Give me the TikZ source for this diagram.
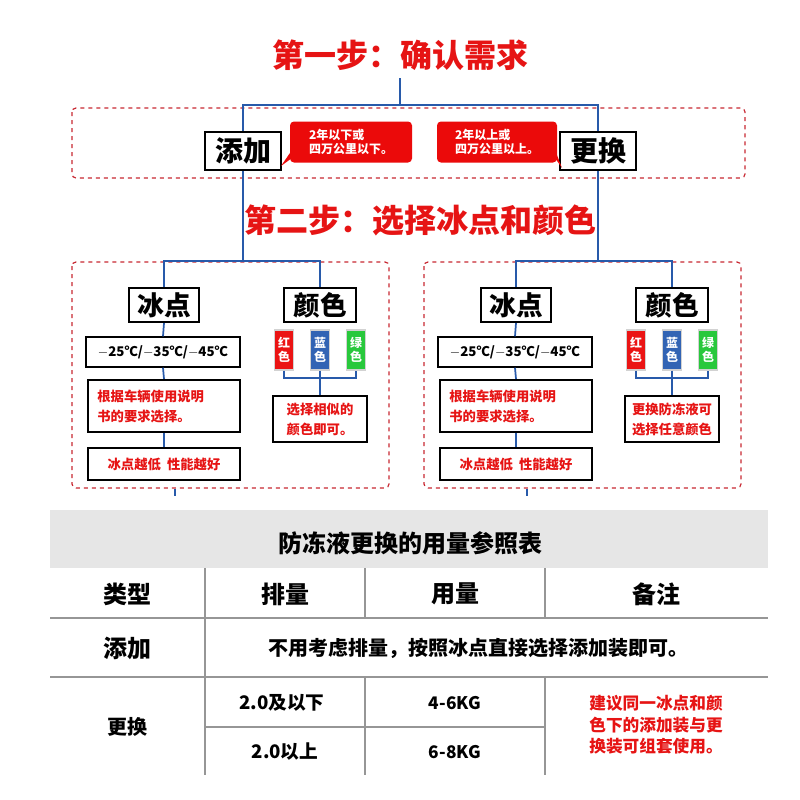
\documentclass[tikz,border=0pt]{standalone}
\usepackage{fontspec}
\setmainfont{Noto Sans CJK SC}
\definecolor{cblue}{RGB}{40,90,170}
\definecolor{dred}{RGB}{200,40,50}
\definecolor{tred}{RGB}{230,20,20}
\definecolor{cred}{RGB}{235,10,10}
\definecolor{chipbd}{RGB}{210,210,210}
\definecolor{chr}{RGB}{235,20,20}
\definecolor{chb}{RGB}{50,100,180}
\definecolor{chg}{RGB}{40,200,60}
\definecolor{gline}{RGB}{150,150,150}
\definecolor{gfill}{RGB}{230,230,230}
\begin{document}
\begin{tikzpicture}[x=0.75pt,y=-0.75pt,
  conn/.style={draw=cblue,line width=1.3pt},
  dbox/.style={draw=dred,dashed,line width=0.9pt,rounded corners=3pt},
  bbox/.style={draw=black,line width=1.6pt,fill=white,inner sep=0pt,font=\bfseries},
  rtxt/.style={text=tred,font=\bfseries},
  call/.style={fill=cred,rounded corners=3pt,text=white,font=\bfseries\fontsize{9}{11}\selectfont,align=left,inner sep=0pt},
  chip/.style={draw=chipbd,line width=0.8pt,text=white,font=\bfseries\fontsize{9}{10.5}\selectfont,align=center,inner sep=0pt,minimum width=14.25pt,minimum height=30pt},
  grid/.style={draw=gline,line width=1.5pt},
  ttxt/.style={font=\bfseries}]
\useasboundingbox (0,0) rectangle (800,800);
\fill[white] (0,0) rectangle (800,800);
% step 1
\node[rtxt,font=\bfseries\fontsize{24}{26}\selectfont] (s1) at (400,55) {第一步：确认需求};
\draw[dbox] (72,108) rectangle (745,178);
\node[bbox,minimum width=57pt,minimum height=28.5pt,font=\bfseries\fontsize{21}{22}\selectfont] (add) at (243,151) {添加};
\node[bbox,minimum width=57pt,minimum height=28.5pt,font=\bfseries\fontsize{21}{22}\selectfont] (rep) at (598,151) {更换};
\coordinate (j1) at (400,105);
\coordinate (j0) at (400,78);
\draw[conn] (j0) -- (j1);
\draw[conn] (add.north) |- (j1) -| (rep.north);
\node[call,minimum width=91.5pt,minimum height=30.75pt] (c1) at (351,142) {2年以下或\\四万公里以下。};
\node[call,minimum width=90pt,minimum height=30.75pt] (c2) at (497,142) {2年以上或\\四万公里以上。};
\fill[cred] (292,150) -- (281,166) -- (292,158) -- cycle;
\fill[cred] (555,150) -- (562,168) -- (555,158) -- cycle;
% step 2
\node[rtxt,font=\bfseries\fontsize{24}{26}\selectfont] (s2) at (420,220) {第二步：选择冰点和颜色};
\coordinate (jl) at (243,261);
\coordinate (jr) at (598,261);
\draw[conn] (add.south) -- (jl);
\draw[conn] (rep.south) -- (jr);
\foreach \o/\j/\desc/\nm in {0/jl/{选择相似的\\颜色即可。}/L, 352/jr/{更换防冻液可\\选择任意颜色}/R}{
  \begin{scope}[xshift=\o*0.75pt]
  \draw[dbox] (72,262) rectangle (389,488);
  \node[bbox,minimum width=52.5pt,minimum height=25.5pt,font=\bfseries\fontsize{20}{22}\selectfont] (ice\nm) at (164,305) {冰点};
  \node[bbox,minimum width=54pt,minimum height=25.5pt,font=\bfseries\fontsize{20}{22}\selectfont] (col\nm) at (320,305) {颜色};
  \node[bbox,minimum width=115pt,minimum height=22pt,font=\bfseries\fontsize{10}{12}\selectfont] (tmp\nm) at (163,352) {$-$25℃/$-$35℃/$-$45℃};
  \node[bbox,minimum width=114pt,minimum height=39pt,align=left,text width=100pt,rtxt,font=\bfseries\fontsize{10}{15}\selectfont] (ins\nm) at (164,406) {根据车辆使用说明\\书的要求选择。};
  \node[bbox,minimum width=114pt,minimum height=24pt,rtxt,font=\bfseries\fontsize{10}{12}\selectfont] (low\nm) at (164,464) {冰点越低\ \ 性能越好};
  \node[chip,fill=chr] (r\nm) at (284,350) {红\\色};
  \node[chip,fill=chb] (b\nm) at (320,350) {蓝\\色};
  \node[chip,fill=chg] (g\nm) at (356,350) {绿\\色};
  \node[bbox,minimum width=70pt,minimum height=34pt,align=left,rtxt,font=\bfseries\fontsize{10}{15}\selectfont] (d\nm) at (320,419) {\desc};
  \coordinate (cb\nm) at (320,378);
  \draw[conn] (ice\nm.south) -- (tmp\nm.north);
  \draw[conn] (tmp\nm.south) -- (ins\nm.north);
  \draw[conn] (ins\nm.south) -- (low\nm.north);
  \draw[conn] (r\nm.south) |- (cb\nm) -| (g\nm.south);
  \draw[conn] (b\nm.south) -- (d\nm.north);
  \draw[conn] (ice\nm.north) |- (\j) -| (col\nm.north);
  \coordinate (st\nm) at (175,489);
  \coordinate (sb\nm) at (175,496);
  \draw[conn,line width=0.8pt] (st\nm) -- (sb\nm);
  \end{scope}
}
% table
\fill[gfill] (50,510) rectangle (768,568);
\node[ttxt,font=\bfseries\fontsize{18}{20}\selectfont] (tt) at (410,543) {防冻液更换的用量参照表};
\draw[grid] (50,618) -- (768,618);
\draw[grid] (50,677) -- (768,677);
\draw[grid] (205,727) -- (545,727);
\draw[grid] (205,568) -- (205,775);
\draw[grid] (365,568) -- (365,618);
\draw[grid] (365,677) -- (365,775);
\draw[grid] (545,568) -- (545,618);
\draw[grid] (545,677) -- (545,775);
\node[ttxt,font=\bfseries\fontsize{18}{20}\selectfont] (h1) at (127,594) {类型};
\node[ttxt,font=\bfseries\fontsize{18}{20}\selectfont] (h2) at (285,594) {排量};
\node[ttxt,font=\bfseries\fontsize{18}{20}\selectfont] (h3) at (455,594) {用量};
\node[ttxt,font=\bfseries\fontsize{18}{20}\selectfont] (h4) at (656,594) {备注};
\node[ttxt,font=\bfseries\fontsize{18}{20}\selectfont] (a1) at (127,648) {添加};
\node[ttxt,font=\bfseries\fontsize{15}{17}\selectfont] (a2) at (478,648) {不用考虑排量，按照冰点直接选择添加装即可。};
\node[ttxt,font=\bfseries\fontsize{15}{17}\selectfont] (r1) at (127,727) {更换};
\node[ttxt,font=\bfseries\fontsize{14}{16}\selectfont] (r2) at (282,703) {2.0及以下};
\node[ttxt,font=\bfseries\fontsize{14}{16}\selectfont] (r3) at (285,752) {2.0以上};
\node[ttxt,font=\bfseries\fontsize{13}{16}\selectfont] (r4) at (455,703) {4-6KG};
\node[ttxt,font=\bfseries\fontsize{13}{16}\selectfont] (r5) at (455,752) {6-8KG};
\node[rtxt,align=left,font=\bfseries\fontsize{12.5}{16}\selectfont] (r6) at (656,725) {建议同一冰点和颜\\色下的添加装与更\\换装可组套使用。};
\end{tikzpicture}
\end{document}
